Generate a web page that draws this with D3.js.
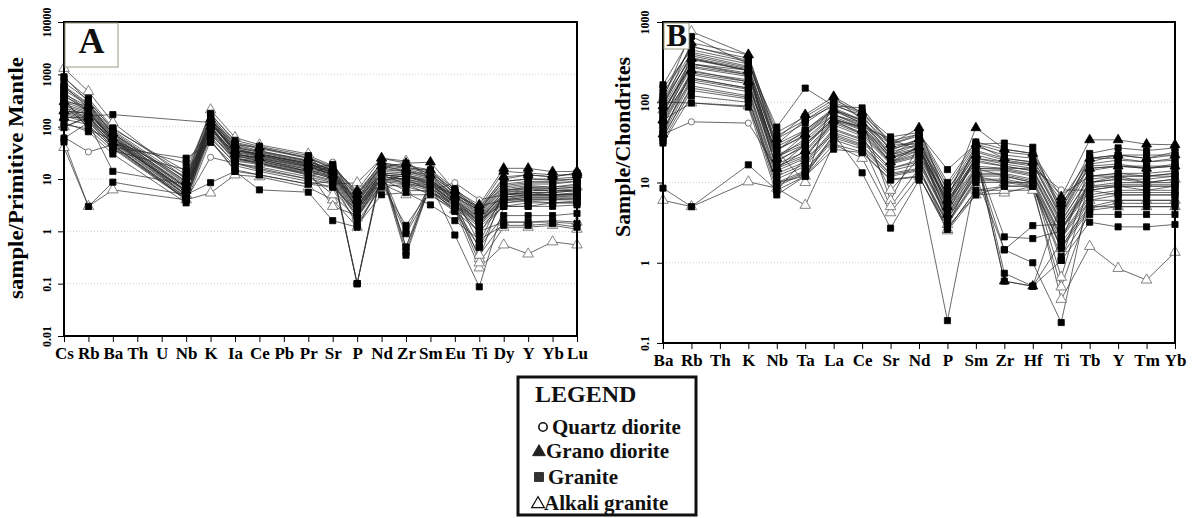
<!DOCTYPE html>
<html><head><meta charset="utf-8">
<script src="https://cdn.jsdelivr.net/npm/d3@7/dist/d3.min.js"></script>
<style>
html,body{margin:0;padding:0;background:#fff;}
svg{display:block;font-family:"Liberation Serif","DejaVu Serif",serif;}
</style></head>
<body><svg id="c" width="1194" height="518"></svg>
<script>
// ---------- DATA ----------
const groupNames = ["Quartz diorite", "Grano diorite", "Granite", "Alkali granite"];

// Panel A : sample / primitive mantle (null = not analysed)
const elementsA = ["Cs","Rb","Ba","Th","U","Nb","K","Ia","Ce","Pb","Pr","Sr","P","Nd","Zr","Sm","Eu","Ti","Dy","Y","Yb","Lu"];
const yTicksA = [0.01, 0.1, 1, 10, 100, 1000, 10000];
const yTickLabelsA = ["0.01","0.1","1","10","100","1000","10000"];

const granitesA = [
  [850,350,95,null,null,12,170,55,42,null,28,18,5.5,20,18,15,6.5,2.8,10,12,11,13],
  [600,280,80,null,null,9,150,48,38,null,25,16,4.5,18,16,13,6,2.5,9,10,10,11],
  [420,240,70,null,null,7,130,40,33,null,22,14,4,16,14,11,5,2.2,7,8,8,9],
  [300,200,60,null,null,6,110,35,30,null,19,13,3.5,14,13,10,4.5,2,6,7,7,7.5],
  [250,180,55,null,null,5.5,100,30,26,null,17,12,3,12,11,9,4,1.8,5,6,6,6],
  [200,160,50,null,null,5,90,28,24,null,15,11,2.6,11,10,8,3.6,1.6,4.5,5,5,5.2],
  [180,140,45,null,null,4.5,85,25,22,null,14,10,2.3,10,9,7,3.2,1.5,4,4.5,4.5,4.5],
  [160,120,42,null,null,4.2,75,22,19,null,12,9,2,9,8,6,3,1.3,3.5,4,4,4],
  [140,110,38,null,null,4,65,20,17,null,11,8.5,1.8,8,7,5.5,2.8,1.2,3,3.5,3.5,3.5],
  [700,320,85,null,null,10,160,45,35,null,22,15,0.1,15,0.4,9,4,1.5,6,6.5,6,6.5],
  [500,260,75,null,null,8,140,38,30,null,20,13,0.1,13,0.35,8,3.5,1.3,5,5.5,5,5.5],
  [380,220,65,null,null,7,120,33,28,null,18,12,3.5,14,0.5,7,3,0.5,4,4.5,4.5,4.8],
  [96,160,170,null,null,null,120,35,28,null,18,12,3,13,12,9,4,1.8,5,5.5,5.5,6],
  [51,3,8.7,null,null,5,8.5,14,6.2,null,5.6,1.6,1.2,9,12,8,0.85,0.087,3,3,3,3.2],
  [60,120,14,null,null,8,60,20,16,null,10,8,2,8,1.3,6,3,1,3,3,3.5,3.5],
  [250,100,40,null,null,25,50,18,14,null,9,7,2.5,10,0.9,6,2.5,0.5,2,2,2,2.2],
  [350,90,35,null,null,15,55,15,12,null,8,7,1.5,7,8,5,2.4,1,1.5,1.5,1.5,1.4],
  [450,200,58,null,null,11,95,30,25,null,16,19,5,17,20,12,5.5,2.4,8,9,9,10],
  [120,80,30,null,null,3.5,55,14,12,null,8,9,1.3,5,5.5,3.2,1.6,0.7,1.3,1.3,1.4,1.2],
  [900,300,90,null,null,14,180,50,40,null,26,17,5,19,17,14,6,2.6,9,10,9.5,10],
  [550,270,72,null,null,8.5,145,42,34,null,23,14.5,4.2,17,15,12,5.5,2.3,7.5,8.5,8.5,9],
  [330,210,62,null,null,6.5,125,37,30,null,20,13.5,3.8,15,14,10.5,4.8,2.1,6.5,7.5,7,8],
  [270,190,52,null,null,5.8,115,32,27,null,17.5,12.5,3.2,13,12,9.5,4.2,1.9,5.5,6.5,6.5,7],
  [230,170,48,null,null,4.8,105,27,23,null,15.5,11.5,2.8,12,11,8.5,3.8,1.7,5,5.5,5.5,6],
  [190,150,44,null,null,4.4,95,24,21,null,13.5,10.5,2.5,11,10,7.5,3.4,1.55,4.2,4.8,4.8,5],
  [170,130,40,null,null,4.1,80,23,20,null,12.5,9.5,2.2,9.5,8.5,6.5,3.1,1.4,3.8,4.2,4.2,4.3],
  [600,230,66,null,null,7.5,135,40,32,null,21,15,0.1,16,0.5,9.5,4.5,0.6,5.5,6,6,6],
  [400,190,58,null,null,6,125,36,29,null,19,13,3.8,14,1.0,8,3.5,0.9,4.5,5,5,5.2],
  [280,130,48,null,null,20,90,28,22,null,14,11,3,13,9,7.5,3.5,1.6,3.5,3.8,3.5,3.8]
];
const granodioritesA = [
  [300,250,75,null,null,9,140,45,40,null,25,16,6,25,20,21,6,3.2,16,16,13.8,14],
  [200,180,60,null,null,7,120,35,30,null,20,14,5,21,16,15,5,2.8,14,13,12,12],
  [150,150,50,null,null,6,100,30,25,null,17,12,4,18,14,12,4.5,2.5,11,12,11,13]
];
const quartzDioritesA = [
  [63,33,45,null,null,4,26,20,15,null,10,21,3,10,10,6,8.5,4,5,5,5,5],
  [110,90,55,null,null,6,70,25,20,null,13,17,2.5,12,11,8,5,3,4,4,4,4.2]
];
const alkaliGranitesA = [
  [1300,470,120,null,null,10,210,62,45,null,30,8,8.5,25,22,10,4,0.3,6,7,6.5,7],
  [40,3,6.2,null,null,4,5.4,12,11,null,7,4,1.2,8,5,5,2.6,0.2,0.55,0.37,0.63,0.55],
  [200,180,60,null,null,5,130,30,24,null,14,3,2,12,8,7,3.2,0.25,1.2,1.2,1.3,1.1],
  [100,150,55,null,null,5,100,25,20,null,12,5,1.8,10,6,6,2.6,0.35,1.5,1.5,1.6,1.5]
];

// Panel B : sample / chondrites
const elementsB = ["Ba","Rb","Th","K","Nb","Ta","La","Ce","Sr","Nd","P","Sm","Zr","Hf","Ti","Tb","Y","Tm","Yb"];
const yTicksB = [0.1, 1, 10, 100, 1000];
const yTickLabelsB = ["0.1","1","10","100","1000"];

const granitesB = [
  [130,490,null,355,42,66,107,74,37,42,10,32,26,23,5,23,27,25,27],
  [110,420,null,300,35,55,95,65,30,38,8,28,22,20,4.5,20,22,22,22],
  [95,380,null,270,30,45,85,60,27,34,7,25,20,18,4,17,19,18,19],
  [85,340,null,250,26,38,78,55,24,30,6.5,22,18,17,3.6,14,16,16,16],
  [75,300,null,230,22,32,70,50,22,27,6,20,17,15,3.2,12,13,13,14],
  [65,270,null,210,19,28,63,46,20,25,5.5,18,16,14,3,10,11,11,12],
  [58,240,null,190,17,24,57,42,18,23,5,16,15,13,2.7,9,10,10,10],
  [52,220,null,170,15,21,52,38,17,21,4.5,14,14,12,2.5,8,9,9,9],
  [46,200,null,150,13,18,47,35,15,19,4,13,13,11,2.2,7,8,8,8],
  [40,180,null,135,11,16,42,32,14,17,3.6,12,12,10,2,6,7,7,7],
  [36,160,null,120,10,14,38,29,13,15,3.2,11,11,9.5,1.8,5,6,6,6],
  [33,140,null,110,9,13,34,26,12,14,3,10,10,9,1.5,4.5,5,5,5],
  [31,120,null,100,8,12,30,24,11,12,2.6,8,9,9,1.2,4,4,4,4],
  [100,98,null,87,7,12,26,23.5,10.7,11.8,2.8,7,9,9,1.07,3.2,2.8,2.8,3],
  [165,660,null,300,49,150,90,85,30,40,14.5,30,31,27.5,4,20,20,18,20],
  [8.5,5,null,16.6,8,20,40,13.2,2.7,10.7,0.19,12,1.45,1.0,0.18,8,7,7,7],
  [120,500,null,330,30,60,90,70,25,35,8,25,0.74,0.51,1.8,15,16,15,16],
  [90,400,null,280,25,45,80,60,22,30,7,22,0.59,0.51,1.07,12,13,12,13],
  [70,350,null,250,20,35,70,52,20,27,6,20,2.1,2.0,2.5,10,11,10,11],
  [60,300,null,220,18,30,62,48,18,25,5.5,18,1.45,2.9,3,9,9,9,9],
  [150,450,null,320,38,60,100,72,33,40,9,30,24,22,4.8,18,22,20,24],
  [105,360,null,260,28,42,82,58,26,32,7,24,19,17,3.8,16,17,15,17],
  [80,280,null,220,21,30,66,48,21,26,5.8,19,16,14,3.4,11,12,12,12],
  [55,230,null,180,16,22,55,40,17.5,22,4.8,15,14.5,12.5,2.6,8.5,9.5,9.5,9.5],
  [45,190,null,145,12,17,45,34,15,18,3.8,12.5,12.5,10.5,2.1,6.5,7.5,7.5,7.5],
  [38,150,null,115,9.5,13.5,36,28,12.5,14.5,3.1,10.5,10.5,9.2,1.6,4.8,5.5,5.5,5.5]
];
const granodioritesB = [
  [90,550,null,390,35,70,117,74,30,48,6,48,26,23,6.6,34,34,30,29.5],
  [60,350,null,250,20,40,80,55,22,35,5,30,20,18,6,20,22,20,22],
  [40,250,null,180,15,25,60,45,18,28,4,22,0.59,0.51,5.5,15,16,15,16]
];
const quartzDioritesB = [
  [40,57,null,55,15,30,60,50,35,25,4,15,15,15,8.1,8,9,8,9],
  [70,200,null,150,25,40,70,55,30,30,5,20,18,16,7,12,12,12,13]
];
const alkaliGranitesB = [
  [6,5,null,10.2,8.5,5.2,30,20,4.2,12,2.5,7,7.4,9,0.35,1.6,0.85,0.61,1.35],
  [110,760,null,390,25,10,117,60,6,30,3,15,12,10,0.66,10,12,10,11],
  [60,98,null,90,10,12,40,30,5,15,2.6,8,8,8,0.5,5,5,5,5],
  [80,300,null,250,14,20,60,40,8,20,3.5,12,10,10,1.5,6,6,6,6]
];

// ---------- DRAW ----------
const svg = d3.select("#c");
const SERIF = "Liberation Serif, Times New Roman, serif";
const markerStyle = {
  "Quartz diorite": {type: d3.symbolCircle, size: 30, fill: "#fff", stroke: "#555"},
  "Grano diorite":  {type: d3.symbolTriangle, size: 42, fill: "#000", stroke: "#000"},
  "Granite":        {type: d3.symbolSquare, size: 38, fill: "#000", stroke: "#000"},
  "Alkali granite": {type: d3.symbolTriangle, size: 48, fill: "#fff", stroke: "#666"}
};

function panel(cfg) {
  const x = d3.scalePoint(cfg.elements, [cfg.left, cfg.right]);
  const y = d3.scaleLog().domain(cfg.domain).range([cfg.bottom, cfg.top]);
  const g = svg.append("g");

  // grid
  g.selectAll("line.grid").data(cfg.ticks.slice(1, -1)).join("line")
    .attr("x1", cfg.left).attr("x2", cfg.right)
    .attr("y1", d => y(d)).attr("y2", d => y(d))
    .attr("stroke", "#cfcfcf").attr("stroke-width", 1).attr("stroke-dasharray", "1,2");

  // axes
  const xa = g.append("g").attr("transform", `translate(0,${cfg.bottom})`)
    .call(d3.axisBottom(x).tickSize(6).tickPadding(3));
  xa.select(".domain").remove();
  xa.selectAll(".tick line").attr("stroke", "#000").attr("stroke-width", 1);
  xa.selectAll(".tick text").attr("font-family", SERIF)
    .attr("font-weight", "bold").attr("font-size", cfg.xFont).attr("fill", "#000").attr("dy", "0.85em");

  const ya = g.append("g").attr("transform", `translate(${cfg.left},0)`)
    .call(d3.axisLeft(y).tickValues(cfg.ticks).tickFormat((d, i) => cfg.tickLabels[i]).tickSize(6).tickPadding(4));
  ya.select(".domain").remove();
  ya.selectAll(".tick line").attr("stroke", "#000").attr("stroke-width", 1);
  ya.selectAll(".tick text")
    .attr("font-family", SERIF).attr("font-weight", "bold").attr("font-size", 12)
    .attr("fill", "#000").attr("text-anchor", "middle").attr("x", 0).attr("dy", 0)
    .attr("transform", `translate(${-cfg.yLabOff},0) rotate(-90)`);

  // lines
  const line = d3.line().x(d => x(d.e)).y(d => y(d.v));
  const series = [];
  cfg.groups.forEach(([name, rows]) => rows.forEach(r => {
    series.push({name, pts: r.map((v, i) => ({e: cfg.elements[i], v})).filter(p => p.v != null)});
  }));
  g.append("g").selectAll("path").data(series).join("path")
    .attr("d", s => line(s.pts)).attr("fill", "none")
    .attr("stroke", "#2a2a2a").attr("stroke-width", 0.7);

  // markers
  const mg = g.append("g");
  series.forEach(s => {
    const st = markerStyle[s.name];
    mg.append("g").selectAll("path").data(s.pts).join("path")
      .attr("d", d3.symbol().type(st.type).size(st.size))
      .attr("transform", d => `translate(${x(d.e)},${y(d.v)})`)
      .attr("fill", st.fill).attr("stroke", st.stroke).attr("stroke-width", 0.8);
  });

  // frame
  g.append("rect").attr("x", cfg.left).attr("y", cfg.top)
    .attr("width", cfg.right - cfg.left).attr("height", cfg.bottom - cfg.top)
    .attr("fill", "none").attr("stroke", "#000").attr("stroke-width", 2);

  // letter box
  g.append("rect").attr("x", cfg.left + 1).attr("y", cfg.top + 1)
    .attr("width", cfg.boxW).attr("height", cfg.boxH)
    .attr("fill", "#fff").attr("stroke", "#9a9a80").attr("stroke-width", 1);
  g.append("text").attr("x", cfg.left + 1 + cfg.boxW / 2).attr("y", cfg.top + cfg.boxH - cfg.letterBase)
    .attr("text-anchor", "middle").attr("font-family", SERIF).attr("font-weight", "bold").attr("font-size", cfg.letterSize)
    .attr("fill", "#111").text(cfg.letter);

  // y title
  g.append("text").attr("transform", `translate(${cfg.titleX},${cfg.titleY}) rotate(-90)`)
    .attr("text-anchor", "middle").attr("font-family", SERIF).attr("font-weight", "bold").attr("font-size", cfg.titleSize)
    .attr("textLength", cfg.titleLen).attr("lengthAdjust", "spacingAndGlyphs")
    .attr("fill", "#000").text(cfg.title);
}

panel({
  elements: elementsA, domain: [0.01, 10000], ticks: yTicksA, tickLabels: yTickLabelsA,
  left: 64, right: 577, top: 22, bottom: 336, xFont: 17, yLabOff: 13,
  groups: [["Alkali granite", alkaliGranitesA], ["Quartz diorite", quartzDioritesA], ["Granite", granitesA], ["Grano diorite", granodioritesA]],
  boxW: 53, boxH: 44, letter: "A", letterSize: 36, letterBase: 13,
  title: "sample/Primitive Mantle", titleX: 23, titleY: 178, titleSize: 20, titleLen: 242
});
panel({
  elements: elementsB, domain: [0.1, 1000], ticks: yTicksB, tickLabels: yTickLabelsB,
  left: 663, right: 1175, top: 22, bottom: 343, xFont: 17, yLabOff: 14,
  groups: [["Alkali granite", alkaliGranitesB], ["Quartz diorite", quartzDioritesB], ["Granite", granitesB], ["Grano diorite", granodioritesB]],
  boxW: 25, boxH: 26, letter: "B", letterSize: 31, letterBase: 2,
  title: "Sample/Chondrites", titleX: 630, titleY: 147, titleSize: 20, titleLen: 180
});

// legend
const lg = svg.append("g");
lg.append("rect").attr("x", 518).attr("y", 377).attr("width", 178).attr("height", 138)
  .attr("fill", "#fff").attr("stroke", "#111").attr("stroke-width", 3);
lg.append("text").attr("x", 535).attr("y", 402).attr("font-family", SERIF).attr("font-weight", "bold").attr("font-size", 24)
  .attr("fill", "#111").text("LEGEND");
const legY = [427, 451, 477, 503];
const legX = [552, 546, 548, 544];
const legSym = [
  {type: d3.symbolCircle, size: 55, fill: "#fff", stroke: "#111", sw: 1.6, dx: 543},
  {type: d3.symbolTriangle, size: 70, fill: "#222", stroke: "#222", sw: 1, dx: 539},
  {type: d3.symbolSquare, size: 80, fill: "#333", stroke: "#333", sw: 1, dx: 539},
  {type: d3.symbolTriangle, size: 70, fill: "#fff", stroke: "#111", sw: 1.2, dx: 538}
];
groupNames.forEach((n, i) => {
  const s = legSym[i];
  lg.append("path").attr("d", d3.symbol().type(s.type).size(s.size)())
    .attr("transform", `translate(${s.dx},${legY[i] + (s.type === d3.symbolTriangle ? 1 : 0)})`)
    .attr("fill", s.fill).attr("stroke", s.stroke).attr("stroke-width", s.sw);
  lg.append("text").attr("x", legX[i]).attr("y", legY[i] + 7).attr("font-family", SERIF).attr("font-weight", "bold")
    .attr("font-size", 21).attr("fill", "#111").text(n);
});
</script></body></html>
